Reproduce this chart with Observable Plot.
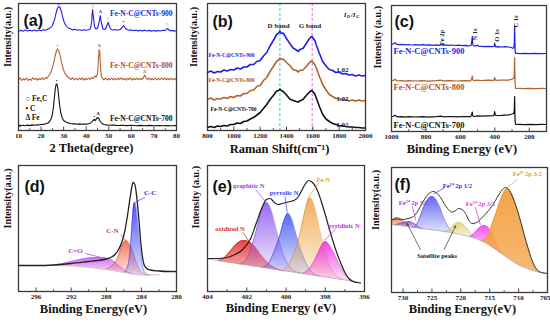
<!DOCTYPE html>
<html><head><meta charset="utf-8">
<script src="https://cdn.jsdelivr.net/npm/d3@7"></script>
<script src="https://cdn.jsdelivr.net/npm/@observablehq/plot@0.6"></script>
<style>
html,body{margin:0;padding:0;background:#fff;}
#chart{position:relative;width:550px;height:325px;overflow:hidden;background:#fff;}
#chart svg{position:absolute;}
</style></head><body><div id="chart"></div>
<script>
// ---------- (a) XRD ----------
const xrd900 = [[10,99],[11,100.3],[12,99.2],[13,100.5],[14,99.4],[15,100.2],[16,99.5],[17,100.6],[18,99.6],[19,100.4],[20,99.8],[21,100.8],[22,100.2],[23,101.5],[24,102.5],[25,105],[26,111],[26.6,117],[27.2,122],[27.8,124],[28.4,123],[29,119],[29.6,113],[30.3,108],[31,105],[32,102.5],[33,101.8],[34,100.6],[35,101.2],[36,100.2],[37,100.8],[38,100],[39,100.7],[40,100.2],[41,100.8],[41.8,101.5],[42.4,108],[42.8,121],[43.2,113],[43.7,104],[44.3,101.5],[45,102.5],[45.6,107],[46.2,115],[46.8,107],[47.4,101.5],[48,101],[48.7,102],[49.3,106],[49.8,108],[50.4,103],[51,101],[52,100.5],[53,101],[54,100.3],[55,101],[55.8,102.5],[56.5,105],[57.3,102.5],[58,101],[59,100.2],[60,100.6],[61,99.8],[62,100.4],[63,99.6],[64,100.2],[65,99.6],[66,100.3],[67,99.5],[68,100.1],[69,99.4],[70,100],[71,99.4],[72,100],[73,99.5],[74,100.2],[75,100],[75.8,102],[76.5,101],[77.2,99.6],[78,100.1],[79,99.4],[80,99.8]];
const xrd800 = [[10,51],[10.7,52.5],[11.4,50],[12.1,52],[12.8,50.5],[13.5,52.5],[14.2,50],[14.9,51.5],[15.6,50.2],[16.3,52.8],[17,51],[17.7,52.2],[18.4,50.4],[19.1,52],[19.8,50.8],[20.5,52.6],[21.2,51],[21.9,53],[22.6,52],[23.3,54.5],[24,56.5],[24.6,60],[25.2,64],[25.8,70],[26.3,75],[26.8,79.5],[27.3,81.5],[27.8,80],[28.3,76],[28.8,71],[29.3,66],[29.9,61],[30.5,57.5],[31.2,55],[31.9,53.5],[32.6,52.5],[33.3,51],[34,52.8],[34.7,50.5],[35.4,52.2],[36.1,50.6],[36.8,52.4],[37.5,51],[38.2,52.6],[38.9,50.4],[39.6,52],[40.3,50.8],[41,52.5],[41.7,51.2],[42.4,53],[43.1,52],[43.8,54.5],[44.5,53.5],[45,57],[45.4,70],[45.7,81],[46,79],[46.3,64],[46.7,54],[47.2,52.5],[47.8,50.6],[48.5,52.4],[49.2,50.5],[49.9,52],[50.6,50.8],[51.3,52.5],[52,50.6],[52.7,52.2],[53.4,50.5],[54.1,52.4],[54.8,51],[55.5,52.6],[56.2,50.8],[56.9,52],[57.6,50.4],[58.3,52.2],[59,51],[59.7,52.6],[60.4,50.5],[61.1,52],[61.8,50.8],[62.5,52.4],[63.2,50.6],[63.9,52.2],[64.6,51],[65.3,52.5],[65.9,55.5],[66.4,53],[67,51],[67.7,52.4],[68.4,50.6],[69.1,52],[69.8,50.8],[70.5,52.5],[71.2,50.5],[71.9,52.2],[72.6,50.8],[73.3,52.4],[74,51],[74.7,52.5],[75.4,50.6],[76.1,52],[76.8,50.8],[77.5,52.3],[78.2,50.6],[78.9,52],[79.6,51],[80,51.5]];
const xrd700 = [[10,3],[10.5,5.5],[11,4.5],[12,5.3],[13,4.7],[14,5.4],[15,4.9],[16,5.6],[17,5.2],[18,5.8],[19,5.4],[20,6.2],[21,6],[22,6.8],[23,7.5],[23.8,9],[24.5,12],[25,16],[25.5,24],[25.9,33],[26.3,42],[26.7,46.5],[27.1,46],[27.5,41],[27.9,32],[28.3,24],[28.8,17],[29.4,12.5],[30,10],[31,8.5],[32,7.6],[33,7],[34,6.6],[35,6.8],[36,6.3],[37,6.6],[38,6.2],[39,6.5],[40,6.4],[41,6.8],[42,7.5],[42.8,9.5],[43.5,11],[44.1,10],[44.6,12],[45.1,13],[45.6,12],[46.2,9],[47,7],[48,6],[49,5.6],[50,5.2],[52,5.4],[54,5],[56,5.3],[58,4.9],[60,5.2],[62,4.8],[64,5.1],[66,4.8],[68,5.1],[70,4.7],[72,5],[74,4.7],[76,5],[78,4.7],[80,4.9]];
const xrdTicks = [10,20,30,40,50,60,70,80];
const xrdMinor = [15,25,35,45,55,65,75];
const xrdSym900 = [{x:27.8,y:126,t:"•"},{x:42.8,y:124.5,t:"○"},{x:46.2,y:119.5,t:"Δ"},{x:49.8,y:112,t:"○"},{x:56.5,y:109,t:"•"},{x:75.8,y:106,t:"○"}];
const xrdSym800 = [{x:27.3,y:85.5,t:"•"},{x:45.8,y:85.5,t:"Δ"},{x:65.9,y:59.5,t:"Δ"}];
const xrdSym700 = [{x:26.9,y:50.5,t:"•"},{x:43.5,y:14.5,t:"•"},{x:45.2,y:17.5,t:"Δ"}];
const xrdNames = [{t:"Fe-N-C@CNTs-900",x:78.2,y:117},{t:"Fe-N-C@CNTs-800",x:78.2,y:65},{t:"Fe-N-C@CNTs-700",x:78.2,y:12}];
const xrdLegend = [{t:"○ Fe₃C",x:13.1,y:32},{t:"• C",x:13.1,y:22},{t:"Δ Fe",x:13.1,y:13}];

// ---------- (b) Raman ----------
const ram900 = [[800,58],[825,59.5],[850,57.5],[875,59],[900,58.5],[925,60.5],[950,59.5],[975,61],[1000,60.5],[1025,62.5],[1050,61.5],[1075,63.5],[1100,63.5],[1125,66],[1150,66],[1175,69],[1200,70],[1225,74.5],[1250,78],[1275,84.5],[1300,90],[1325,96],[1340,97.5],[1350,99.5],[1360,97],[1375,97.5],[1400,92],[1425,87],[1450,82.5],[1475,80.5],[1490,79],[1500,81],[1525,82],[1550,87],[1575,92],[1590,94],[1600,93],[1615,90],[1625,86],[1650,77],[1675,69],[1700,64.5],[1725,61],[1750,60],[1775,58],[1800,58.5],[1825,56.5],[1850,57],[1875,55.5],[1900,56],[1925,54.5],[1950,55.5],[1975,54.5],[2000,55]];
const ram800 = [[800,31],[825,32.5],[850,30.5],[875,32],[900,31.5],[925,33],[950,32],[975,34],[1000,33],[1025,35],[1050,34.5],[1075,37],[1100,37],[1125,40],[1150,40.5],[1175,44],[1200,45],[1225,50],[1250,53],[1275,59],[1300,64],[1325,69],[1340,70.5],[1350,72.5],[1360,71],[1375,71.5],[1400,68],[1425,65],[1450,61],[1475,60],[1490,58.5],[1500,60],[1525,60.5],[1550,64],[1575,68],[1590,69.5],[1600,68.5],[1615,66],[1625,63],[1650,54],[1675,46],[1700,40.5],[1725,36],[1750,34],[1775,32],[1800,32],[1825,30.5],[1850,31],[1875,29.5],[1900,30.5],[1925,29.5],[1950,30.5],[1975,29.5],[2000,30]];
const ram700 = [[800,3],[825,4],[850,3],[875,4.5],[900,4],[925,5],[950,4.5],[975,6],[1000,6],[1025,7.5],[1050,7],[1075,9],[1100,9.5],[1125,11.5],[1150,13],[1175,15.5],[1200,18],[1225,22],[1250,26],[1275,31],[1300,35],[1325,39.5],[1340,40],[1350,41.5],[1360,40],[1375,39],[1400,35.5],[1425,31.5],[1450,30],[1475,29],[1490,28.5],[1500,29.5],[1525,31],[1550,35],[1575,38.5],[1590,40],[1600,39],[1615,36.5],[1625,33],[1650,24],[1675,16],[1700,11.5],[1725,9],[1750,7],[1775,6],[1800,5],[1825,4.5],[1850,4],[1875,3.5],[1900,3.5],[1925,3],[1950,3],[1975,2.5],[2000,2.5]];
const ramTicks = [800,1000,1200,1400,1600,1800,2000];
const ramMinor = [900,1100,1300,1500,1700,1900];
const ramBands = [1350, 1595];
const ramBandNames = [{t:"D band",x:1340,y:105},{t:"G band",x:1578,y:105}];
const ramRatio = [{t:"1.02",x:1825,y:60.5},{t:"1.02",x:1825,y:32},{t:"1.02",x:1825,y:5.5}];
const ramNames = [{t:"Fe-N-C@CNTs-900",x:808,y:75.5},{t:"Fe-N-C@CNTs-800",x:808,y:50},{t:"Fe-N-C@CNTs-700",x:823,y:21.5}];

// ---------- (c) XPS survey ----------
const sur900 = [[1000,87],[990,87.5],[980,88.8],[972,87.3],[960,86.8],[940,87.2],[920,86.6],[900,87],[880,86.5],[860,86.9],[840,86.4],[820,86.8],[800,86.3],[780,86.7],[760,86.2],[740,86.6],[720,86.2],[712,87],[705,86.3],[690,86.6],[670,86.1],[650,86.5],[630,86],[610,86.3],[590,85.8],[570,86.1],[550,85.7],[538,86],[534,90],[531,95],[528,87],[524,85.8],[510,85.6],[500,86.4],[492,85],[480,85.2],[460,84.9],[440,85.2],[420,84.8],[405,85],[401,88.5],[398,86],[394,84.6],[380,84.8],[360,84.5],[340,84.8],[320,84.5],[305,84],[295,83.2],[290,83.5],[287,88],[285,106],[283.5,90],[282,80],[279,78],[270,78.2],[250,77.9],[230,78.1],[200,77.9],[170,78.1],[140,77.9],[100,78]];
const sur800 = [[1000,50.5],[990,51],[980,52.3],[972,51],[960,50.6],[940,50.9],[920,50.4],[900,50.8],[860,50.5],[820,50.9],[780,50.4],[740,50.8],[712,51.3],[700,50.6],[660,50.9],[620,50.5],[580,50.9],[540,50.7],[534,53],[531,55.5],[528,51.5],[520,50.9],[500,51.4],[480,51],[440,51.3],[405,51.2],[401,54],[398,52],[394,51.2],[360,51.5],[320,51.3],[300,52.3],[290,53],[287,58],[285,74],[283.5,57],[282,47],[279,43],[260,43.2],[230,42.9],[200,43.1],[160,42.9],[130,43.1],[100,43]];
const sur700 = [[1000,14.5],[990,15.3],[980,16.2],[972,15.2],[960,14.6],[940,14.9],[920,14.4],[900,14.8],[860,14.5],[820,14.9],[780,14.4],[740,14.8],[712,15.4],[700,14.7],[660,15],[620,14.6],[580,15],[540,14.9],[534,17.5],[531,19.5],[528,15.5],[520,15],[500,15.6],[480,15.3],[440,15.6],[405,15.8],[401,20],[398,17],[394,16],[360,16.2],[320,16.6],[300,17.5],[290,18],[287,22],[285,35],[283.5,18],[282,10],[279,7],[260,7.2],[230,6.9],[200,7.1],[160,6.9],[130,7.1],[100,7]];
const surTicks = [1000,800,600,400,200];
const surMinor = [900,700,500,300];
const surPeaks = [{t:"Fe 2p",x:706,y:94},{t:"N 1s",x:515,y:97},{t:"O 1s",x:386,y:96},{t:"C 1s",x:276,y:110}];
const surNames = [{t:"Fe-N-C@CNTs-900",x:988,y:80},{t:"Fe-N-C@CNTs-800",x:988,y:44},{t:"Fe-N-C@CNTs-700",x:988,y:6}];

// ---------- (d) C 1s ----------
const c1sEnvelope = [[298,26],[296,26],[294,26.5],[292,28],[290,30],[289,31],[288,32.5],[287.5,34],[287,37],[286.6,42],[286.2,50],[285.9,60],[285.6,75],[285.3,93],[285.1,104],[284.95,109],[284.8,108],[284.65,103],[284.5,92],[284.3,74],[284.1,52],[283.9,36],[283.7,27],[283.4,23],[283,21.5],[282,20.5],[281,20],[280,20]];
const c1sBackground = [[294,26],[292,25.5],[290,24],[289,23],[288,22],[287,20.5],[286,19],[285,17.5],[284,16.5],[283,16.5],[282,17]];
const c1sCO = [[294,26,26.5],[293,25.7,28],[292,25.5,30],[291,24.7,32],[290,24,33.5],[289,23,34],[288,22,33.5],[287.5,21.2,32],[287,20.5,29],[286.5,19.8,25.5],[286,19,22],[285.5,18.2,19],[285,17.5,17.6]];
const c1sCN = [[288,22,22.5],[287.5,21.2,25],[287,20.5,29],[286.6,20,36],[286.3,19.5,44],[286,19,49],[285.8,18.7,51],[285.5,18.2,49.5],[285.2,17.8,45],[284.9,17.4,38],[284.6,17,30],[284.3,16.8,23],[284,16.5,19],[283.6,16.5,17],[283.3,16.5,16.6]];
const c1sCC = [[286,19,19.2],[285.7,18.6,22],[285.4,18.2,32],[285.2,17.8,50],[285,17.5,75],[284.85,17.3,88],[284.75,17.2,89],[284.6,17,84],[284.4,16.8,68],[284.2,16.6,48],[284,16.5,32],[283.8,16.5,23],[283.6,16.5,19],[283.3,16.5,17],[283,16.5,16.6]];
const c1sTicks = [296,292,288,284,280];
const c1sMinor = [294,290,286,282];
const c1sNames = [{t:"C-C",x:283,y:99},{t:"C-N",x:287.3,y:61},{t:"C=O",x:291.5,y:41}];
const c1sLeaders = [[283.6,94,284.7,89.3],[286.4,57,285.8,51.5],[290.4,38,288.7,34.3]];

// ---------- (e) N 1s ----------
const n1sEnvelope = [[404,33],[403.5,33],[403,34],[402.6,37],[402.2,42],[401.8,53],[401.5,69],[401.2,85],[401,92],[400.8,93],[400.6,89],[400.4,87],[400.2,88],[400,89],[399.8,90],[399.6,91],[399.4,94],[399.2,101],[399,108],[398.85,111],[398.6,108],[398.4,101],[398.2,90],[398,77],[397.8,63],[397.6,50],[397.4,38],[397.2,28],[397,19],[396.8,13],[396.6,10],[396.4,9],[396.2,8.5]];
const n1sBackground = [[404,32.5],[403,29.5],[402,26.5],[401,23.5],[400,20.5],[399,17.5],[398,14.5],[397,11.5],[396.2,9]];
const n1sOxidized = [[403.5,30.4,31],[403.2,29.5,33],[402.9,28.6,39],[402.6,27.7,46],[402.3,26.8,50.5],[402.1,26.2,51],[401.9,25.6,50],[401.6,24.7,45],[401.3,23.8,37],[401,22.9,30],[400.7,22,25],[400.4,21.1,22],[400.1,20.2,20.5]];
const n1sGraphitic = [[402.4,27.1,27.5],[402.1,26.2,30],[401.8,25.3,42],[401.5,24.4,62],[401.25,23.7,81],[401,22.9,89],[400.75,22.2,81],[400.5,21.4,62],[400.2,20.5,40],[399.9,19.6,27],[399.6,18.7,21],[399.3,17.8,18.5]];
const n1sPyrrolic = [[401.2,23.5,24],[400.9,22.6,28],[400.6,21.7,40],[400.3,20.8,57],[400.1,20.2,71],[399.9,19.6,78],[399.7,19,72],[399.5,18.4,58],[399.2,17.5,39],[398.9,16.6,25],[398.6,15.7,18],[398.3,14.8,15.5]];
const n1sFeN = [[400.2,20.5,21],[399.9,19.6,26],[399.6,18.7,38],[399.3,17.8,57],[399.05,17,79],[398.8,16.3,94],[398.55,15.5,85],[398.3,14.8,63],[398,13.9,38],[397.7,13,22],[397.4,12.1,15],[397.1,11.2,12]];
const n1sPyridinic = [[399.2,17.5,18],[398.9,16.6,21],[398.6,15.7,29],[398.35,15,39],[398.15,14.4,47],[398,14,50],[397.85,13.5,48],[397.6,12.8,40],[397.3,11.9,28],[397,11,17],[396.7,10,12],[396.4,9.1,9.5]];
const n1sTicks = [404,402,400,398,396];
const n1sMinor = [403,401,399,397];
const n1sNames = [{t:"graphitic N",x:401.9,y:106},{t:"pyrrolic N",x:400.1,y:99},{t:"Fe-N",x:398.1,y:112},{t:"oxidized N",x:402.85,y:63},{t:"pyridinic N",x:397.05,y:66}];
const n1sLeaders = [[401.55,102,401.05,90],[400.05,95,399.94,79],[398.3,109,398.84,95],[397.45,63,398.05,51],[402.2,59,401.8,48]];

// ---------- (f) Fe 2p ----------
const fe2pEnvelope = [[732,73],[731,73.5],[730,73],[729.5,73.5],[728.8,74.5],[728,77],[727.3,83],[726.6,90],[726,96],[725.4,99.5],[724.8,101],[724.2,99.5],[723.5,95],[722.9,89],[722.3,84],[721.6,80.5],[721,81.5],[720.4,84],[719.8,83],[719.2,79],[718.6,72],[718.1,69],[717.5,69.5],[717,71],[716.4,74.5],[715.8,78],[715.2,82],[714.6,86.5],[714,92],[713.4,98],[712.8,103],[712.3,105],[711.8,103.5],[711.3,99],[710.8,92],[710.2,82],[709.6,70],[709,57],[708.4,45],[707.8,34],[707.2,26],[706.6,21.5],[706,20],[705,19]];
const fe2pBackground = [[732,68],[728,65],[724,62],[720,58],[717,53],[715,47],[713,39],[711,31],[709,25],[707,21],[705,19]];
const fe2p32a = [[716.5,51.5,52],[715.5,49,56],[714.8,46,65],[714,43,78],[713.3,40,90],[712.6,37.5,100],[712,35,104],[711.4,33,101],[710.8,30.5,93],[710.2,28,82],[709.6,26,70],[709,25,57],[708.4,23.8,45],[707.8,22.5,34],[707.2,21.3,26],[706.6,20.5,21.5],[706,20,20.2]];
const fe3p32 = [[718.5,55.5,56],[717.8,54.5,58.5],[717.2,53.5,62],[716.6,52,65.5],[716,50.5,67],[715.4,49,66],[714.8,46.5,61],[714.2,44,54],[713.6,41,46],[713,39,40]];
const feSat1 = [[723,60.5,60.8],[722.3,60,62],[721.6,59.5,65],[721,59,68.5],[720.4,58.5,70],[719.8,58,69],[719.2,57,66],[718.6,56,61.5],[718,55,57.5],[717.4,54,54.5]];
const fe2p12 = [[728.5,64.5,64.8],[727.8,64,67],[727.1,63.5,75],[726.4,63,86],[725.7,62.5,93],[725,62,96],[724.3,61.5,93],[723.6,61,85],[722.9,60.5,74],[722.2,60,66],[721.5,59.5,61.5]];
const fe3p12 = [[731.5,67.5,67.8],[730.8,67,68.5],[730.2,66.5,69.5],[729.6,66,70.5],[729,65.5,71],[728.4,65,70],[727.8,64,68],[727.2,63.5,65.5],[726.6,63,63.5]];
const feSat2 = [[732,68,72],[731.5,67.7,74],[731,67.3,75],[730.5,67,74],[730,66.6,71.5],[729.5,66.2,69],[729,65.8,67]];
const fe2pTicks = [730,725,720,715,710,705];
const fe2pMinor = [727.5,722.5,717.5,712.5,707.5];
const fe2pNames = [{t:"Fe²⁺ 2p 3/2",x:708.5,y:118.5},{t:"Fe²⁺ 2p 1/2",x:720.6,y:107},{t:"Fe³⁺ 2p 1/2",x:728.2,y:90},{t:"Fe³⁺ 2p 3/2",x:716.6,y:89}];
const fe2pLeaders = [[710.2,113.5,712,104.5],[722.9,104.5,724.7,98.5],[728.4,86.5,727.8,72.5],[717.5,85.5,716.6,67.5]];
const fe2pSatLabel = [{t:"Satellite peaks",x:724.1,y:37}];
const fe2pSatArrows = [[727,43,729.3,69],[722.9,43,720.9,66.5]];

// ---------- drawing ----------
const SERIF = "'Liberation Serif','Times New Roman',serif";
const SANS = "'Liberation Sans',Arial,sans-serif";
const chart = document.getElementById("chart");
const X = d => d[0], Y = d => d[1], Z = d => d[2];

function labels(data, o) {
  return Plot.text(data, {x: d => d.x, y: d => d.y, text: d => d.t, fontFamily: SERIF, fontWeight: "bold", ...o});
}
function links(data, o) {
  return Plot.link(data, {x1: d => d[0], y1: d => d[1], x2: d => d[2], y2: d => d[3], strokeWidth: 0.7, ...o});
}
function comp(data, id, color) {
  return [
    Plot.areaY(data, {x: X, y1: Y, y2: Z, fill: `url(#${id})`, curve: "monotone-x"}),
    Plot.line(data, {x: X, y: Z, stroke: color, strokeWidth: 0.6, strokeOpacity: 0.8, curve: "monotone-x"})
  ];
}
function addGradients(svg, list) {
  const defs = d3.select(svg).insert("defs", ":first-child");
  for (const [id, c, a0, a1] of list) {
    const g = defs.append("linearGradient").attr("id", id).attr("x1", 0).attr("y1", 0).attr("x2", 0).attr("y2", 1);
    g.append("stop").attr("offset", "0%").attr("stop-color", c).attr("stop-opacity", a0);
    g.append("stop").attr("offset", "100%").attr("stop-color", c).attr("stop-opacity", a1);
  }
}
function panel(cfg, marks) {
  const y0 = cfg.yd[0];
  const last = cfg.major[cfg.major.length - 1];
  const extra = [];
  if (cfg.hideLast) {
    extra.push(Plot.text([last], {x: d => d, text: d => String(d), frameAnchor: "bottom", dy: 3, dx: 3, lineAnchor: "top", textAnchor: "end", fontSize: 7, fill: "#222"}));
  }
  const svg = Plot.plot({
    width: cfg.w, height: cfg.h,
    marginLeft: cfg.ml, marginRight: cfg.mr, marginTop: cfg.mt, marginBottom: cfg.mb,
    style: {fontFamily: SERIF, fontSize: "7px", fontWeight: "bold", background: "transparent", overflow: "visible", color: "#222"},
    x: {domain: cfg.xd, ticks: cfg.major, tickSize: 0, tickPadding: 3, label: null,
        tickFormat: d => (cfg.hideLast && d === last) ? "" : String(d)},
    y: {domain: cfg.yd, axis: null},
    marks: [
      ...marks,
      Plot.ruleX(cfg.major, {x: d => d, y1: y0, y2: y0 + 3.5, stroke: "#333", strokeWidth: 0.9}),
      Plot.ruleX(cfg.minor, {x: d => d, y1: y0, y2: y0 + 2, stroke: "#333", strokeWidth: 0.8}),
      Plot.frame({stroke: "#3a3a3a", strokeWidth: 1.3}),
      ...extra,
      Plot.text([cfg.letter], {text: d => d, frameAnchor: "top-left", dx: cfg.ldx, dy: cfg.ldy, textAnchor: "start", fontFamily: SANS, fontWeight: "bold", fontSize: 16, fill: "#111"}),
      Plot.text([cfg.ytitle], {text: d => d, frameAnchor: "left", rotate: -90, dx: cfg.ydx, fontSize: 10, fill: "#111"}),
      Plot.text([cfg.xtitle], {text: d => d, frameAnchor: "bottom", dx: cfg.xdx, dy: cfg.xdy, fontSize: 12.5, fill: "#111"})
    ]
  });
  svg.style.left = cfg.left + "px";
  svg.style.top = cfg.top + "px";
  if (cfg.grads) addGradients(svg, cfg.grads);
  chart.appendChild(svg);
}

const BLUE = "#1f1fe6", BROWN = "#b5622e", BLACK = "#111";

// (a)
panel({left: 0, top: 0, w: 182, h: 162, ml: 18, mr: 6, mt: 3, mb: 32, xd: [10, 80], yd: [0, 127],
  major: xrdTicks, minor: xrdMinor, letter: "(a)", ldx: 5, ldy: 11,
  ytitle: "Intensity(a.u.)", ydx: -11, xtitle: "2 Theta(degree)", xdx: -6, xdy: 21}, [
  Plot.line(xrd900, {x: X, y: Y, stroke: BLUE, strokeWidth: 1.1}),
  Plot.line(xrd800, {x: X, y: Y, stroke: BROWN, strokeWidth: 1.1}),
  Plot.line(xrd700, {x: X, y: Y, stroke: BLACK, strokeWidth: 1.1}),
  labels(xrdSym900, {fontSize: 5, fill: BLUE}),
  labels(xrdSym800, {fontSize: 5, fill: BROWN}),
  labels(xrdSym700, {fontSize: 5, fill: BLACK}),
  labels([xrdNames[0]], {fontSize: 7.5, fill: BLUE, textAnchor: "end"}),
  labels([xrdNames[1]], {fontSize: 7.5, fill: "#b5502a", textAnchor: "end"}),
  labels([xrdNames[2]], {fontSize: 7.5, fill: BLACK, textAnchor: "end"}),
  labels(xrdLegend, {fontSize: 7.5, fill: BLACK, textAnchor: "start"})
]);

// (b)
panel({left: 183, top: 0, w: 186, h: 162, ml: 24, mr: 4, mt: 3, mb: 32, xd: [800, 2000], yd: [0, 127],
  major: ramTicks, minor: ramMinor, letter: "(b)", ldx: 5, ldy: 12,
  ytitle: "Intensity(a.u.)", ydx: -14, xtitle: "Raman Shift(cm⁻¹)", xdx: -7, xdy: 22}, [
  Plot.ruleX([ramBands[0]], {x: d => d, stroke: "#3cc8d8", strokeWidth: 1, strokeDasharray: "3 2"}),
  Plot.ruleX([ramBands[1]], {x: d => d, stroke: "#e070d8", strokeWidth: 1, strokeDasharray: "3 2"}),
  Plot.line(ram900, {x: X, y: Y, stroke: BLUE, strokeWidth: 1.6}),
  Plot.line(ram800, {x: X, y: Y, stroke: BROWN, strokeWidth: 1.6}),
  Plot.line(ram700, {x: X, y: Y, stroke: BLACK, strokeWidth: 1.6}),
  labels(ramBandNames, {fontSize: 7, fill: "#222"}),
  labels(ramRatio, {fontSize: 7, fill: "#222"}),
  labels([ramNames[0]], {fontSize: 5.5, fill: BLUE, textAnchor: "start"}),
  labels([ramNames[1]], {fontSize: 5.5, fill: "#b5502a", textAnchor: "start"}),
  labels([ramNames[2]], {fontSize: 5.5, fill: BLACK, textAnchor: "start"}),
  Plot.text(["I"], {x: 1835, y: 116, text: d => d, fontStyle: "italic", fontSize: 7, textAnchor: "start", fill: "#222"}),
  Plot.text(["D"], {x: 1835, y: 116, text: d => d, dx: 3, dy: 2, fontStyle: "italic", fontSize: 4.5, textAnchor: "start", fill: "#222"}),
  Plot.text(["/I"], {x: 1835, y: 116, text: d => d, dx: 7, fontStyle: "italic", fontSize: 7, textAnchor: "start", fill: "#222"}),
  Plot.text(["G"], {x: 1835, y: 116, text: d => d, dx: 12.5, dy: 2, fontStyle: "italic", fontSize: 4.5, textAnchor: "start", fill: "#222"})
]);

// (c)
panel({left: 368, top: 0, w: 182, h: 162, ml: 23, mr: 4, mt: 5, mb: 31, xd: [1000, 100], yd: [0, 126],
  major: surTicks, minor: surMinor, letter: "(c)", ldx: 3, ldy: 10,
  ytitle: "Intensity (a.u.)", ydx: -14, xtitle: "Binding Energy (eV)", xdx: -7, xdy: 21}, [
  Plot.line(sur900, {x: X, y: Y, stroke: BLUE, strokeWidth: 1.2}),
  Plot.line(sur800, {x: X, y: Y, stroke: BROWN, strokeWidth: 1.2}),
  Plot.line(sur700, {x: X, y: Y, stroke: BLACK, strokeWidth: 1.2}),
  labels(surPeaks, {fontSize: 6.5, fill: "#222", rotate: -90}),
  labels([surNames[0]], {fontSize: 8.5, fill: BLUE, textAnchor: "start"}),
  labels([surNames[1]], {fontSize: 8.5, fill: "#b5502a", textAnchor: "start"}),
  labels([surNames[2]], {fontSize: 8.5, fill: BLACK, textAnchor: "start"})
]);

// (d)
panel({left: 0, top: 162, w: 182, h: 163, ml: 18, mr: 6, mt: 3, mb: 34, xd: [298, 280], yd: [0, 126],
  major: c1sTicks, minor: c1sMinor, letter: "(d)", ldx: 6, ldy: 15,
  ytitle: "Intensity(a.u.)", ydx: -11, xtitle: "Binding Energy(eV)", xdx: -4, xdy: 21,
  grads: [["gd-co", "#c040f0", 0.75, 0.15], ["gd-cn", "#f05030", 0.8, 0.12], ["gd-cc", "#3a3af8", 0.9, 0.15]]}, [
  ...comp(c1sCO, "gd-co", "#b040e0"),
  ...comp(c1sCN, "gd-cn", "#d05030"),
  ...comp(c1sCC, "gd-cc", "#3030e0"),
  Plot.line(c1sBackground, {x: X, y: Y, stroke: "#c8a0a0", strokeWidth: 0.7, curve: "monotone-x"}),
  Plot.line(c1sEnvelope, {x: X, y: Y, stroke: "#222", strokeWidth: 1.3, curve: "monotone-x"}),
  links([c1sLeaders[0]], {stroke: "#3030e0"}),
  links([c1sLeaders[1]], {stroke: "#b05030"}),
  links([c1sLeaders[2]], {stroke: "#a040d0"}),
  labels([c1sNames[0]], {fontSize: 7, fill: "#3030e0"}),
  labels([c1sNames[1]], {fontSize: 7, fill: "#c0502a"}),
  labels([c1sNames[2]], {fontSize: 7, fill: "#b040e0"})
]);

// (e)
panel({left: 183, top: 162, w: 186, h: 163, ml: 24, mr: 5, mt: 3, mb: 34, xd: [404, 396], yd: [0, 126],
  major: n1sTicks, minor: n1sMinor, letter: "(e)", ldx: 5, ldy: 15,
  ytitle: "Intensity (a.u.)", ydx: -12, xtitle: "Binding Energy (eV)", xdx: -5, xdy: 20,
  grads: [["ge-ox", "#e82020", 0.85, 0.35], ["ge-gr", "#8a50f0", 0.85, 0.1], ["ge-py", "#3a50f0", 0.85, 0.1], ["ge-fe", "#f0a040", 0.85, 0.12], ["ge-pd", "#f030e0", 0.9, 0.12]]}, [
  ...comp(n1sOxidized, "ge-ox", "#c02020"),
  ...comp(n1sGraphitic, "ge-gr", "#7a40d0"),
  ...comp(n1sPyrrolic, "ge-py", "#3040d0"),
  ...comp(n1sFeN, "ge-fe", "#d08a30"),
  ...comp(n1sPyridinic, "ge-pd", "#d020c8"),
  Plot.line(n1sBackground, {x: X, y: Y, stroke: "#b0a0a0", strokeWidth: 0.7}),
  Plot.line(n1sEnvelope, {x: X, y: Y, stroke: "#222", strokeWidth: 1.2, curve: "monotone-x"}),
  links([n1sLeaders[0]], {stroke: "#8a4de0"}),
  links([n1sLeaders[1]], {stroke: "#3a3af0"}),
  links([n1sLeaders[2]], {stroke: "#d09a30"}),
  links([n1sLeaders[3]], {stroke: "#c030d0"}),
  links([n1sLeaders[4]], {stroke: "#a03020"}),
  labels([n1sNames[0]], {fontSize: 6.5, fill: "#8a4de0"}),
  labels([n1sNames[1]], {fontSize: 6.5, fill: "#3a3af0"}),
  labels([n1sNames[2]], {fontSize: 6.5, fill: "#e0a030"}),
  labels([n1sNames[3]], {fontSize: 6.5, fill: "#e03030"}),
  labels([n1sNames[4]], {fontSize: 6.5, fill: "#c030d0"})
]);

// (f)
panel({left: 368, top: 162, w: 182, h: 163, ml: 23, mr: 3, mt: 5, mb: 33, xd: [732, 705], yd: [0, 125],
  major: fe2pTicks, minor: fe2pMinor, letter: "(f)", ldx: 3, ldy: 11, hideLast: true,
  ytitle: "Intensity(a.u.)", ydx: -16, xtitle: "Binding Energy(eV)", xdx: -7, xdy: 20,
  grads: [["gf-s2", "#d07030", 0.8, 0.3], ["gf-p12", "#9040c8", 0.8, 0.2], ["gf-b12", "#4a4af0", 0.85, 0.15], ["gf-sat", "#e0d070", 0.85, 0.25], ["gf-m32", "#f040f0", 0.9, 0.2], ["gf-o32", "#f4a040", 0.95, 0.75]]}, [
  ...comp(feSat2, "gf-s2", "#b06020"),
  ...comp(fe3p12, "gf-p12", "#8040c0"),
  ...comp(fe2p12, "gf-b12", "#4040e0"),
  ...comp(feSat1, "gf-sat", "#c0b050"),
  ...comp(fe3p32, "gf-m32", "#e040e0"),
  ...comp(fe2p32a, "gf-o32", "#e09030"),
  Plot.line(fe2pBackground, {x: X, y: Y, stroke: "#a0a0a0", strokeWidth: 0.7, curve: "monotone-x"}),
  Plot.line(fe2pEnvelope, {x: X, y: Y, stroke: "#333", strokeWidth: 1, curve: "monotone-x"}),
  links([fe2pLeaders[0]], {stroke: "#d09a30"}),
  links([fe2pLeaders[1]], {stroke: "#3a3af0"}),
  links([fe2pLeaders[2]], {stroke: "#a040d0"}),
  links([fe2pLeaders[3]], {stroke: "#d030d0"}),
  Plot.arrow(fe2pSatArrows, {x1: d => d[0], y1: d => d[1], x2: d => d[2], y2: d => d[3], stroke: "#333", strokeWidth: 0.7, headLength: 4}),
  labels([fe2pNames[0]], {fontSize: 6.5, fill: "#e0a030"}),
  labels([fe2pNames[1]], {fontSize: 6.5, fill: "#3030e0"}),
  labels([fe2pNames[2]], {fontSize: 6.5, fill: "#b040e0"}),
  labels([fe2pNames[3]], {fontSize: 6.5, fill: "#e040e0"}),
  labels(fe2pSatLabel, {fontSize: 6.5, fill: "#222"})
]);
</script></body></html>
